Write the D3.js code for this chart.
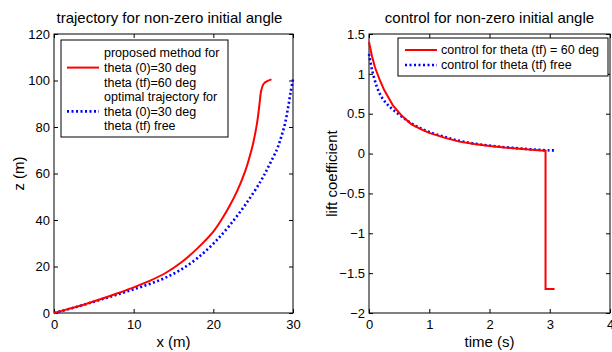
<!DOCTYPE html>
<html>
<head>
<meta charset="utf-8">
<script src="https://cdnjs.cloudflare.com/ajax/libs/d3/7.8.5/d3.min.js"></script>
<style>
  body { margin: 0; background: #fff; }
  svg { display: block; font-family: "Liberation Sans", Arial, sans-serif; }
  text { fill: #000; }
</style>
</head>
<body>
<svg id="chart" width="612" height="352"></svg>
<script>
// trajectory: proposed method (red) and optimal (blue)
var redX = [0, 2, 4, 6, 8, 10, 12, 14, 16, 18, 20, 21, 22, 23, 24, 24.5, 25, 25.5, 25.8, 26, 26.3, 26.8, 27.3];
var redZ = [0, 1.9, 3.9, 6.1, 8.5, 11, 13.8, 17.2, 21.8, 27.8, 35, 40, 45.8, 52.5, 61, 66.5, 73, 82, 90, 95.5, 98.5, 99.8, 100.5];
var blueX = [0, 2, 4, 6, 8, 10, 12, 14, 16, 18, 20, 22, 24, 26, 27, 28, 28.5, 29, 29.4, 29.7, 30];
var blueZ = [0, 1.8, 3.8, 5.9, 8, 10.2, 12.5, 15.2, 18.8, 23.6, 29.8, 37.5, 46.5, 57, 63.5, 70.5, 75.5, 81.5, 88.7, 95, 100.5];

// control (lift coefficient) vs time
var redT = [0, 0.05, 0.1, 0.18, 0.25, 0.4, 0.55, 0.7, 0.85, 1.0, 1.25, 1.5, 1.75, 2.0, 2.25, 2.5, 2.75, 2.93, 2.93, 3.08];
var redC = [1.40, 1.22, 1.08, 0.92, 0.80, 0.60, 0.47, 0.37, 0.31, 0.26, 0.20, 0.15, 0.12, 0.095, 0.075, 0.06, 0.045, 0.035, -1.70, -1.70];
var blueT = [0, 0.05, 0.13, 0.2, 0.3, 0.4, 0.55, 0.7, 0.85, 1.0, 1.25, 1.5, 1.75, 2.0, 2.25, 2.5, 2.75, 3.0, 3.1];
var blueC = [1.25, 1.05, 0.84, 0.72, 0.62, 0.55, 0.46, 0.38, 0.32, 0.27, 0.21, 0.16, 0.125, 0.1, 0.08, 0.065, 0.05, 0.04, 0.04];

var xTicksL = [0, 10, 20, 30];
var yTicksL = [0, 20, 40, 60, 80, 100, 120];
var xTicksR = [0, 1, 2, 3, 4];
var yTicksR = [-2, -1.5, -1, -0.5, 0, 0.5, 1, 1.5];

var legendL = [
  {color: "#ff0000", dash: null, lines: ["proposed method for", "theta (0)=30 deg", "theta (tf)=60 deg"]},
  {color: "#0000ff", dash: "2,2.5", lines: ["optimal trajectory for", "theta (0)=30 deg", "theta (tf) free"]}
];
var legendR = [
  {color: "#ff0000", dash: null, lines: ["control for theta (tf) = 60 deg"]},
  {color: "#0000ff", dash: "2,2.5", lines: ["control for theta (tf) free"]}
];

var svg = d3.select("#chart");

function zip(a, b) {
  return a.map(function(v, i) { return [v, b[i]]; });
}

function panel(opts) {
  var g = svg.append("g");
  var x = d3.scaleLinear().domain(opts.xDomain).range([opts.left, opts.right]);
  var y = d3.scaleLinear().domain(opts.yDomain).range([opts.bottom, opts.top]);
  var tick = 4;

  // axes box
  g.append("rect")
    .attr("x", opts.left).attr("y", opts.top)
    .attr("width", opts.right - opts.left).attr("height", opts.bottom - opts.top)
    .attr("fill", "none").attr("stroke", "#000").attr("stroke-width", 1);

  // ticks on all four sides (pointing inwards)
  var xa = d3.axisBottom(x).tickValues(opts.xTicks).tickSize(-tick).tickPadding(7)
    .tickFormat(d3.format("~g"));
  g.append("g").attr("transform", "translate(0," + opts.bottom + ")").call(xa);
  g.append("g").attr("transform", "translate(0," + opts.top + ")")
    .call(d3.axisTop(x).tickValues(opts.xTicks).tickSize(-tick).tickFormat(""));

  var ya = d3.axisLeft(y).tickValues(opts.yTicks).tickSize(-tick).tickPadding(4)
    .tickFormat(d3.format("~g"));
  g.append("g").attr("transform", "translate(" + opts.left + ",0)").call(ya);
  g.append("g").attr("transform", "translate(" + opts.right + ",0)")
    .call(d3.axisRight(y).tickValues(opts.yTicks).tickSize(-tick).tickFormat(""));

  g.selectAll(".domain").remove();
  g.selectAll(".tick line").attr("stroke", "#000");
  g.selectAll(".tick text").attr("font-size", 13).attr("fill", "#000")
    .attr("font-family", "Liberation Sans, Arial, sans-serif");

  var line = d3.line()
    .x(function(d) { return x(d[0]); })
    .y(function(d) { return y(d[1]); })
    .curve(d3.curveCatmullRom.alpha(0.5));
  var lineLin = d3.line()
    .x(function(d) { return x(d[0]); })
    .y(function(d) { return y(d[1]); });

  g.append("path").datum(opts.blue)
    .attr("d", line).attr("fill", "none")
    .attr("stroke", "#0000ff").attr("stroke-width", 2.6).attr("stroke-dasharray", "2,2.5");
  g.append("path").datum(opts.red)
    .attr("d", opts.redLinear ? lineLin : line).attr("fill", "none")
    .attr("stroke", "#ff0000").attr("stroke-width", 2);

  // title and labels
  g.append("text").attr("x", (opts.left + opts.right) / 2 + (opts.titleShift || 0)).attr("y", 23)
    .attr("text-anchor", "middle").attr("font-size", 15).text(opts.title);
  g.append("text").attr("x", (opts.left + opts.right) / 2).attr("y", 347)
    .attr("text-anchor", "middle").attr("font-size", 15).text(opts.xLabel);
  g.append("text")
    .attr("transform", "translate(" + opts.yLabelX + "," + (opts.top + opts.bottom) / 2 + ") rotate(-90)")
    .attr("text-anchor", "middle").attr("font-size", 15).text(opts.yLabel);

  // legend
  var L = opts.legend;
  var lg = g.append("g");
  lg.append("rect").attr("x", L.x).attr("y", L.y).attr("width", L.w).attr("height", L.h)
    .attr("fill", "#fff").attr("stroke", "#000").attr("stroke-width", 1);
  var row = 0;
  L.items.forEach(function(item) {
    var n = item.lines.length;
    var mid = L.y + L.pad + (row + (n - 1) / 2) * L.lh;
    lg.append("line")
      .attr("x1", L.x + L.s0).attr("x2", L.x + L.s1)
      .attr("y1", mid).attr("y2", mid)
      .attr("stroke", item.color).attr("stroke-width", item.dash ? 2.6 : 2)
      .attr("stroke-dasharray", item.dash);
    item.lines.forEach(function(t) {
      lg.append("text").attr("x", L.x + L.tx).attr("y", L.y + L.pad + row * L.lh)
        .attr("dy", "0.35em").attr("font-size", 12.5).text(t);
      row++;
    });
  });
}

panel({
  left: 54, right: 293, top: 34, bottom: 313,
  xDomain: [0, 30], yDomain: [0, 120],
  xTicks: xTicksL, yTicks: yTicksL,
  red: zip(redX, redZ), blue: zip(blueX, blueZ),
  title: "trajectory for non-zero initial angle", titleShift: -4,
  xLabel: "x (m)", yLabel: "z (m)", yLabelX: 24,
  legend: {x: 61, y: 40, w: 167, h: 97, pad: 13, lh: 14.6, s0: 6, s1: 38, tx: 43, items: legendL}
});

panel({
  left: 369, right: 610, top: 34, bottom: 313,
  xDomain: [0, 4], yDomain: [-2, 1.5],
  xTicks: xTicksR, yTicks: yTicksR,
  red: zip(redT, redC), blue: zip(blueT, blueC), redLinear: true,
  title: "control for non-zero initial angle",
  xLabel: "time (s)", yLabel: "lift coefficient", yLabelX: 337,
  legend: {x: 398, y: 38, w: 210, h: 38, pad: 12, lh: 15, s0: 7, s1: 39, tx: 43, items: legendR}
});
</script>
</body>
</html>
